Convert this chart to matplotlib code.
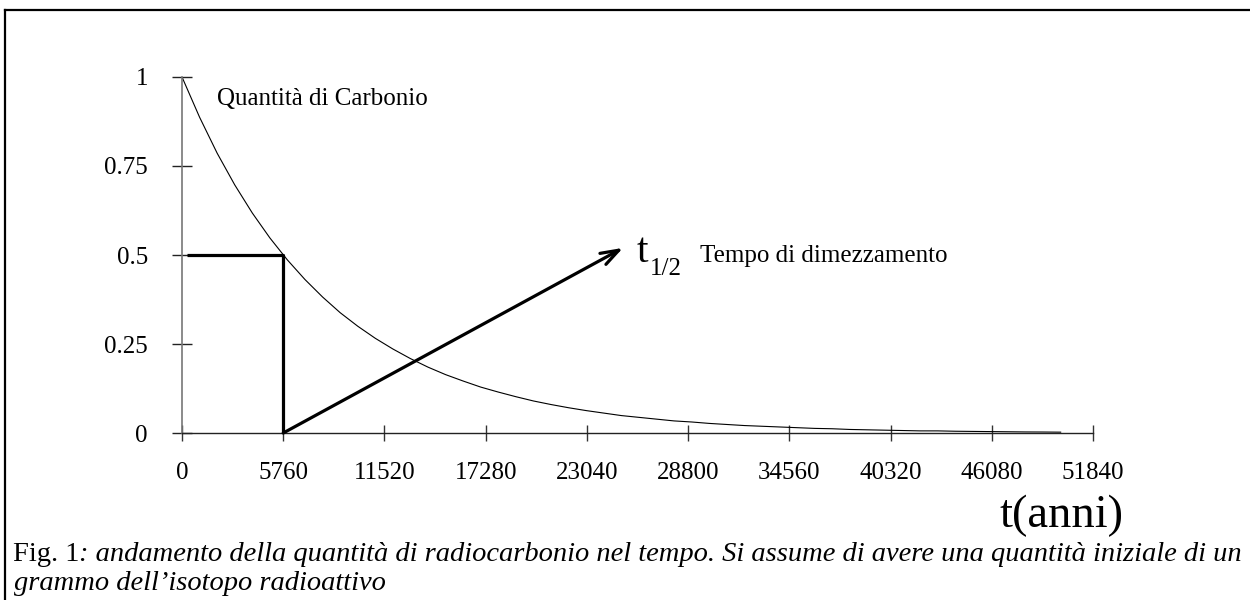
import matplotlib.pyplot as plt
from matplotlib.lines import Line2D

plt.rcParams['font.family'] = ['Liberation Serif', 'DejaVu Serif']

# dati (quantita' in grammi ogni 1000 anni)
anni = list(range(0, 50001, 1000))
quantita = [1.0, 0.887, 0.786, 0.697, 0.618, 0.548, 0.486, 0.431, 0.382, 0.338,
            0.300, 0.266, 0.236, 0.209, 0.185, 0.164, 0.146, 0.129, 0.115, 0.102,
            0.090, 0.080, 0.071, 0.063, 0.056, 0.049, 0.044, 0.039, 0.034, 0.031,
            0.027, 0.024, 0.021, 0.019, 0.017, 0.015, 0.013, 0.012, 0.010, 0.009,
            0.008, 0.007, 0.006, 0.006, 0.005, 0.0045, 0.004, 0.0035, 0.003, 0.0028,
            0.0024]

x_ticks = [0, 5760, 11520, 17280, 23040, 28800, 34560, 40320, 46080, 51840]
y_ticks = [0, 0.25, 0.5, 0.75, 1]
y_labels = ['0', '0.25', '0.5', '0.75', '1']

t_half = 5760
seg_x = [300, 5760, 5760]
seg_y = [0.5, 0.5, 0]
freccia_fine = (25100, 0.52)

fig = plt.figure(figsize=(12.5, 6), dpi=100)
ax = fig.add_axes([0.1456, 0.2783, 0.7288, 0.5934])

ax.plot(anni, quantita, color='black', lw=0.8)
ax.plot(seg_x, seg_y, color='black', lw=2.3, solid_capstyle='butt')
ax.annotate('', xy=freccia_fine, xytext=(t_half, 0),
            arrowprops=dict(arrowstyle='->,head_length=1.3,head_width=0.45',
                            lw=2.3, color='black', shrinkA=0, shrinkB=0))

ax.text(2000, 0.921, 'Quantità di Carbonio', fontsize=18, va='baseline')
ax.text(25890, 0.480, 't', fontsize=30, va='baseline')
ax.text(26640, 0.444, '1/2', fontsize=18, va='baseline')
ax.text(29480, 0.480, 'Tempo di dimezzamento', fontsize=18, va='baseline')

ax.set_xlim(0, 51840)
ax.set_ylim(0, 1)
ax.set_xticks(x_ticks)
ax.set_xticklabels([str(v) for v in x_ticks])
ax.set_yticks(y_ticks)
ax.set_yticklabels(y_labels)
ax.tick_params(axis='both', direction='inout', labelsize=18, width=1)
ax.tick_params(axis='y', length=15, pad=17, color='#222222')
ax.tick_params(axis='x', length=12, pad=15, color='#333333')

for s in ['top', 'right']:
    ax.spines[s].set_visible(False)
ax.spines['left'].set_color('#777777')
ax.spines['left'].set_linewidth(1.2)
ax.spines['bottom'].set_color('#222222')
ax.spines['bottom'].set_linewidth(1)
ax.patch.set_visible(False)

fig.text(1000 / 1250, 1 - 527 / 600, 't(anni)', fontsize=33.5, va='baseline')

# didascalia
r = fig.canvas.get_renderer()
t1 = fig.text(13 / 1250, 1 - 561 / 600, 'Fig. 1', fontsize=20.5, va='baseline')
bb = t1.get_window_extent(renderer=r)
fig.text(bb.x1 / 1250, 1 - 561 / 600,
         ': andamento della quantità di radiocarbonio nel tempo. Si assume di avere una quantità iniziale di un',
         fontsize=20.5, style='italic', va='baseline')
fig.text(14 / 1250, 1 - 590 / 600, 'grammo dell\u2019isotopo radioattivo',
         fontsize=20.5, style='italic', va='baseline')

# cornice
fig.add_artist(Line2D([5 / 1250, 5 / 1250], [0, 1 - 10 / 600], color='black', lw=1.6))
fig.add_artist(Line2D([5 / 1250, 1], [1 - 10 / 600, 1 - 10 / 600], color='black', lw=1.6))

fig.savefig('out.png', dpi=100)
